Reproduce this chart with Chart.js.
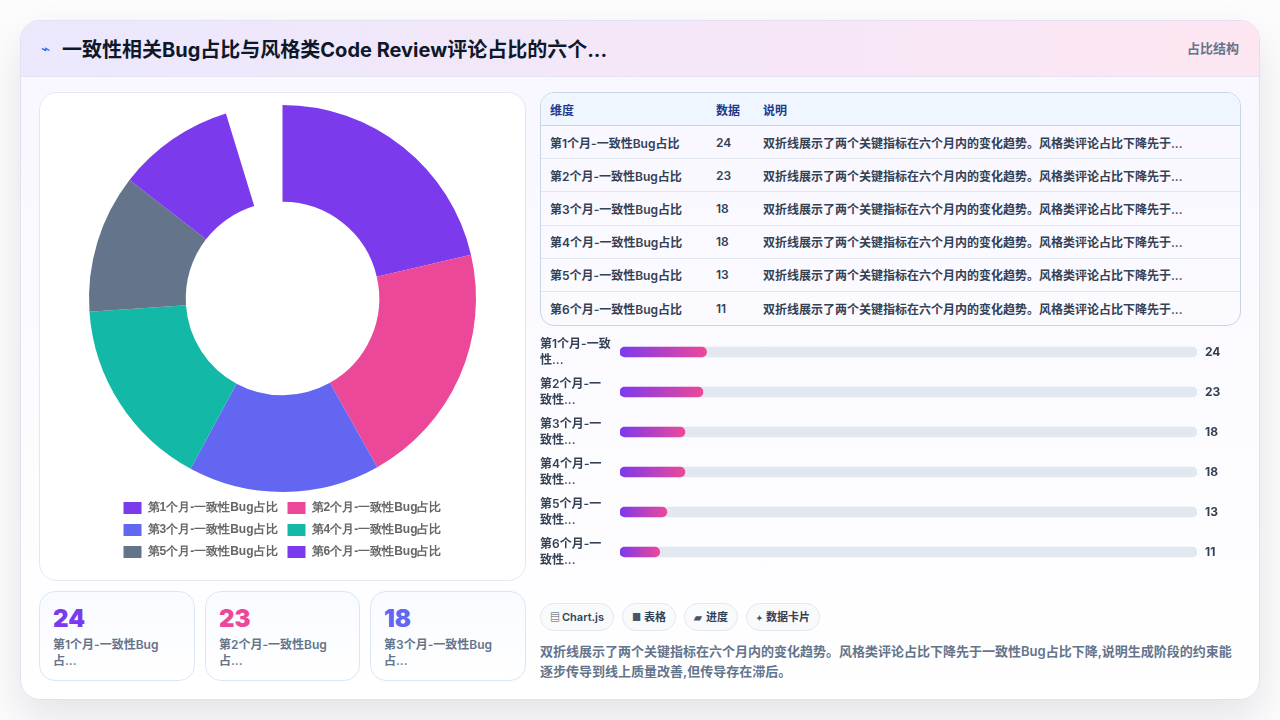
<!DOCTYPE html>
<html lang="zh">
<head>
<meta charset="utf-8">
<title>一致性相关Bug占比与风格类Code Review评论占比</title>
<script src="https://cdn.jsdelivr.net/npm/chart.js@4"></script>
<style>
* { box-sizing: border-box; margin: 0; padding: 0; }
html, body { width: 1280px; height: 720px; overflow: hidden; background: #fcfcfd; }
body { font-family: Inter, "Noto Sans CJK SC", sans-serif; position: relative; }
.card { position: absolute; left: 20px; top: 20px; width: 1240px; height: 680px; border-radius: 20px; border: 1px solid #e2e0f2; overflow: hidden;
  background: linear-gradient(180deg, #f8f6ff 0%, #fcfcff 60%, #ffffff 100%); box-shadow: 0 18px 40px rgba(15, 23, 42, .10); }
.head { position: absolute; left: 0; top: 0; right: 0; height: 56px; background: linear-gradient(90deg, #ebe8fd, #fde6f2); border-bottom: 1px solid #e7e5f4; }
.head .ico { position: absolute; left: 20px; top: 18px; font-size: 15px; color: #2563eb; }
.head h1 { position: absolute; left: 41px; top: 15px; font-size: 20px; line-height: 28px; font-weight: 700; color: #0f172a; }
.head .tag { position: absolute; right: 20px; top: 18px; font-size: 13px; line-height: 18px; font-weight: 700; color: #64748b; }
.pie { position: absolute; left: 18px; top: 71px; width: 487px; height: 489px; background: #fff; border: 1px solid #e2e8f0; border-radius: 18px; }
.pie canvas { position: absolute; left: 11px; top: 12px; }
.stat { position: absolute; top: 570px; height: 90px; border: 1px solid #dbe7f5; border-radius: 16px; background: linear-gradient(180deg, #f8fbff, #ffffff); padding: 11px 13px; }
.stat b { display: block; font-size: 24px; line-height: 32px; font-weight: 900; }
.stat span { display: block; margin-top: 2px; font-size: 12px; line-height: 16px; font-weight: 600; color: #64748b; }
table { position: absolute; left: 519px; top: 71px; width: 701px; height: 234px; border-collapse: separate; border-spacing: 0; border: 1px solid #cbd5e1; border-radius: 14px; overflow: hidden; font-size: 12px; table-layout: fixed; }
th { height: 33px; text-align: left; padding-left: 9px; font-weight: 700; color: #1e3a8a; background: #eff6ff; border-bottom: 1px solid #cbd5e1; }
td { height: 33px; padding-left: 9px; font-weight: 600; color: #334155; border-bottom: 1px solid #e2e8f0; white-space: nowrap; }
tr:last-child td { border-bottom: 0; }
.bars { position: absolute; left: 519px; top: 311px; width: 701px; height: 240px; }
.chips { position: absolute; left: 519px; top: 582px; display: flex; gap: 8px; }
.chips span { height: 28px; line-height: 26px; padding: 0 9px; border: 1px solid #e2e8f0; border-radius: 14px; background: #f8fafc; font-size: 11px; font-weight: 600; color: #334155; white-space: nowrap; }
.chips i { display: inline-block; width: 12px; font-size: 10px; font-style: normal; color: #475569; }
.chips span:last-child i { width: 10px; font-size: 8px; }
.note { position: absolute; left: 519px; top: 620px; width: 701px; font-size: 13px; line-height: 20px; font-weight: 600; color: #64748b; }
</style>
</head>
<body>
<div class="card">
  <div class="head">
    <span class="ico">⌁</span>
    <h1 id="title"></h1>
    <span class="tag" id="tag"></span>
  </div>
  <div class="pie"><canvas id="donut" width="463" height="463" style="width:463px;height:463px"></canvas></div>
  <div id="stats"></div>
  <table id="tbl"></table>
  <div class="bars"><canvas id="progress" width="701" height="240" style="width:701px;height:240px"></canvas></div>
  <div class="chips" id="chips"></div>
  <div class="note" id="note"></div>
</div>
<script>
var titleText = "一致性相关Bug占比与风格类Code Review评论占比的六个...";
var tagText = "占比结构";
var categories = ["第1个月-一致性Bug占比", "第2个月-一致性Bug占比", "第3个月-一致性Bug占比", "第4个月-一致性Bug占比", "第5个月-一致性Bug占比", "第6个月-一致性Bug占比"];
var values = [24, 23, 18, 18, 13, 11];
var colors = ["#7c3aed", "#ec4899", "#6366f1", "#14b8a6", "#64748b", "#7c3aed"];
var barLabels = [["第1个月-一致", "性..."], ["第2个月-一", "致性..."], ["第3个月-一", "致性..."], ["第4个月-一", "致性..."], ["第5个月-一", "致性..."], ["第6个月-一", "致性..."]];
var barMax = [160, 160, 160, 160, 160, 160];
var tableHead = ["维度", "数据", "说明"];
var rowNote = "双折线展示了两个关键指标在六个月内的变化趋势。风格类评论占比下降先于...";
var statLabels = [["第1个月-一致性Bug", "占..."], ["第2个月-一致性Bug", "占..."], ["第3个月-一致性Bug", "占..."]];
var statLefts = [18, 184, 349];
var statWidths = [156, 155, 156];
var chipIcons = ["▤", "■", "▰", "✦"];
var chipTexts = ["Chart.js", "表格", "进度", "数据卡片"];
var noteText = "双折线展示了两个关键指标在六个月内的变化趋势。风格类评论占比下降先于一致性Bug占比下降,说明生成阶段的约束能逐步传导到线上质量改善,但传导存在滞后。";

var fontName = 'Inter, "Noto Sans CJK SC", sans-serif';

document.getElementById("title").textContent = titleText;
document.getElementById("tag").textContent = tagText;
document.getElementById("note").textContent = noteText;

var html = "<colgroup><col style='width:166px'><col style='width:47px'><col></colgroup><tr>";
for (var i = 0; i < tableHead.length; i++) {
    html += "<th>" + tableHead[i] + "</th>";
}
html += "</tr>";
for (var i = 0; i < categories.length; i++) {
    html += "<tr><td>" + categories[i] + "</td><td>" + values[i] + "</td><td>" + rowNote + "</td></tr>";
}
document.getElementById("tbl").innerHTML = html;

var statHtml = "";
for (var i = 0; i < statLabels.length; i++) {
    statHtml += "<div class='stat' style='left:" + statLefts[i] + "px;width:" + statWidths[i] + "px'><b style='color:" + colors[i] + "'>" + values[i] + "</b><span>" + statLabels[i].join("<br>") + "</span></div>";
}
document.getElementById("stats").innerHTML = statHtml;

var chipHtml = "";
for (var i = 0; i < chipTexts.length; i++) {
    chipHtml += "<span><i>" + chipIcons[i] + "</i>" + chipTexts[i] + "</span>";
}
document.getElementById("chips").innerHTML = chipHtml;

new Chart(document.getElementById("donut"), {
    type: "doughnut",
    data: {
        labels: categories,
        datasets: [{ data: values, backgroundColor: colors, borderWidth: 0 }]
    },
    options: {
        responsive: false,
        animation: false,
        cutout: "50%",
        circumference: 343,
        plugins: {
            tooltip: { enabled: false },
            legend: {
                position: "bottom",
                labels: {
                    boxWidth: 18,
                    boxHeight: 12,
                    padding: 10,
                    color: "#666",
                    font: { family: "'Helvetica Neue', Helvetica, Arial, sans-serif", size: 12, weight: "600" }
                }
            }
        }
    }
});

new Chart(document.getElementById("progress"), {
    type: "bar",
    data: {
        labels: barLabels,
        datasets: [
            {
                data: values,
                order: 1,
                barThickness: 10,
                borderRadius: 5,
                borderSkipped: false,
                backgroundColor: function (ctx) {
                    var x = ctx.chart.scales.x;
                    var x0 = x ? x.getPixelForValue(0) : NaN;
                    var x1 = x ? x.getPixelForValue(ctx.raw) : NaN;
                    if (!isFinite(x0) || !isFinite(x1)) return "#c026d3";
                    var g = ctx.chart.ctx.createLinearGradient(x0, 0, x1, 0);
                    g.addColorStop(0, "#7c3aed");
                    g.addColorStop(1, "#ec4899");
                    return g;
                }
            },
            {
                data: barMax,
                order: 2,
                barThickness: 10,
                borderRadius: 5,
                borderSkipped: false,
                backgroundColor: "#e2e8f0"
            }
        ]
    },
    options: {
        responsive: false,
        animation: false,
        indexAxis: "y",
        layout: { padding: 0 },
        plugins: { legend: { display: false }, tooltip: { enabled: false } },
        scales: {
            x: { display: false, stacked: false, min: 0, max: 160 },
            y: {
                stacked: true,
                position: "left",
                grid: { display: false, drawTicks: false },
                border: { display: false },
                afterFit: function (axis) {
                    axis.width = 80;
                    axis.paddingTop = 0;
                    axis.paddingBottom = 0;
                },
                ticks: {
                    crossAlign: "far",
                    padding: 8,
                    color: "#334155",
                    font: { family: fontName, size: 12, weight: "600", lineHeight: 1.35 }
                }
            },
            y2: {
                type: "category",
                labels: values,
                position: "right",
                grid: { display: false, drawTicks: false },
                border: { display: false },
                afterFit: function (axis) {
                    axis.width = 44;
                    axis.paddingTop = 0;
                    axis.paddingBottom = 0;
                },
                ticks: {
                    padding: 8,
                    color: "#334155",
                    font: { family: fontName, size: 12, weight: "700" }
                }
            }
        }
    }
});
</script>
</body>
</html>
